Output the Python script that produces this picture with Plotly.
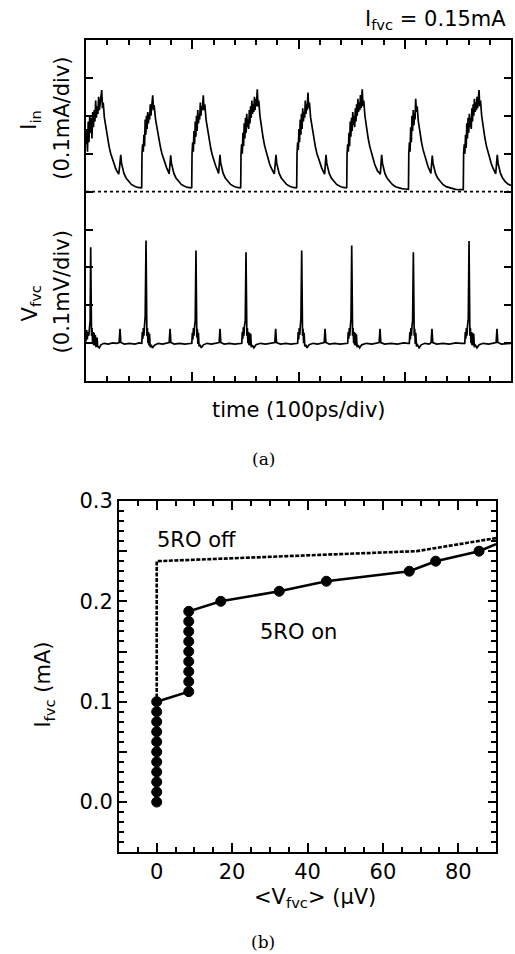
import plotly.graph_objects as go

# ---------------- Panel (a): time traces ----------------
# I_in trace: time (ps) and current (mA)
t_in = [
    0.0, 0.7, 1.4, 2.1, 2.8, 3.5, 4.2, 4.9, 5.6, 6.3, 7.0, 7.7, 8.4, 9.1, 9.8, 10.5, 11.2, 11.9, 12.6, 13.3, 14.8, 15.5, 16.2,
    17.3, 18.8, 20.3, 21.8, 23.3, 24.8, 26.3, 27.8, 29.3, 30.8, 31.8, 32.7, 33.4, 34.2, 35.7, 37.7, 40.2, 42.7, 45.7, 48.7, 52.2,
    52.4, 52.7, 53.3, 53.9, 54.5, 55.1, 55.7, 56.3, 56.9, 57.5, 58.1, 58.7, 59.3, 59.9, 60.5, 61.1, 61.7, 62.8, 63.5, 64.1,
    65.5, 67.0, 68.5, 70.0, 71.5, 73.0, 74.5, 76.0, 77.5, 78.2, 79.0, 79.7, 80.4, 81.2, 82.7, 84.7, 87.2, 89.7, 92.7, 95.7, 99.2,
    99.5, 99.8, 100.4, 101.0, 101.6, 102.2, 102.8, 103.4, 104.0, 104.6, 105.2, 105.8, 106.4, 107.0, 107.6, 108.2, 108.8, 109.5, 110.4, 111.1, 111.8,
    113.0, 114.5, 116.0, 117.5, 119.0, 120.5, 122.0, 123.5, 124.8, 125.4, 126.1, 126.8, 127.6, 129.1, 131.1, 133.6, 136.1, 139.1, 142.1, 145.3,
    145.6, 145.9, 146.5, 147.1, 147.7, 148.3, 148.9, 149.5, 150.1, 150.7, 151.3, 151.9, 152.5, 153.1, 153.7, 154.3, 154.9, 155.5, 156.1, 156.7,
    157.3, 157.9, 158.5, 159.1, 159.7, 160.4, 161.2, 161.9, 162.6,
    163.7, 165.2, 166.7, 168.2, 169.7, 171.2, 172.7, 174.2, 175.7, 177.2, 178.0, 178.8, 179.5, 180.3, 181.8, 183.8, 186.3, 188.8, 191.8, 194.8, 198.0,
    198.3, 198.6, 199.2, 199.8, 200.4, 201.0, 201.6, 202.2, 202.8, 203.4, 204.0, 204.6, 205.2, 205.8, 206.4, 207.0, 207.6, 208.2, 208.9, 209.6, 210.3,
    211.4, 212.9, 214.4, 215.9, 217.4, 218.9, 220.4, 221.9, 223.4, 224.6, 225.2, 225.9, 226.6, 227.4, 228.9, 230.9, 233.4, 235.9, 238.9, 241.9, 245.1,
    245.4, 245.7, 246.3, 246.9, 247.5, 248.1, 248.7, 249.3, 249.9, 250.5, 251.1, 251.7, 252.3, 252.9, 253.5, 254.1, 254.7, 255.3, 255.9, 256.5,
    257.1, 257.7, 258.3, 258.9, 259.4, 260.0, 260.7, 261.4,
    262.5, 264.0, 265.5, 267.0, 268.5, 270.0, 271.5, 273.0, 274.5, 276.0, 277.0, 277.6, 278.3, 279.0, 279.8, 281.3, 283.3, 285.8, 288.3, 291.3,
    294.3, 297.3, 300.3, 303.3,
    303.5, 303.8, 304.4, 305.0, 305.6, 306.2, 306.8, 307.4, 308.0, 308.6, 309.2, 309.7, 310.3, 311.0, 311.7,
    312.8, 314.3, 315.8, 317.3, 318.8, 320.3, 321.8, 323.3, 324.6, 325.2, 325.9, 326.6, 327.4, 328.9, 330.9, 333.4, 335.9, 338.9, 341.9,
    344.9, 347.9, 350.9, 354.9,
    355.1, 355.4, 356.0, 356.6, 357.2, 357.8, 358.4, 359.0, 359.6, 360.2, 360.8, 361.4, 362.0, 362.6, 363.2, 363.8, 364.4, 365.0, 365.6, 366.2,
    366.8, 367.4, 368.0, 368.6, 369.2, 369.9, 370.6, 371.3,
    372.4, 373.9, 375.4, 376.9, 378.4, 379.9, 381.4, 382.9, 384.4, 385.6, 386.3, 387.1, 387.8, 388.6, 390.1, 392.1, 394.6, 397.1, 400.0,
]
i_in = [
    0.125, 0.165, 0.105, 0.185, 0.13, 0.20, 0.155, 0.195, 0.14, 0.21, 0.17, 0.215, 0.185, 0.24, 0.195, 0.225, 0.205, 0.25, 0.215, 0.235, 0.268, 0.22, 0.235,
    0.195, 0.165, 0.14, 0.118, 0.10, 0.085, 0.072, 0.062, 0.053, 0.046, 0.07, 0.097, 0.075, 0.062, 0.048, 0.036, 0.026, 0.019, 0.014, 0.011, 0.010,
    0.011, 0.100, 0.125, 0.105, 0.15, 0.12, 0.19, 0.15, 0.20, 0.165, 0.21, 0.18, 0.205, 0.19, 0.23, 0.20, 0.22, 0.254, 0.215, 0.228,
    0.19, 0.163, 0.14, 0.118, 0.10, 0.085, 0.072, 0.062, 0.053, 0.047, 0.07, 0.096, 0.075, 0.062, 0.048, 0.036, 0.026, 0.019, 0.014, 0.011, 0.010,
    0.011, 0.10, 0.13, 0.105, 0.16, 0.125, 0.185, 0.145, 0.20, 0.16, 0.215, 0.18, 0.20, 0.19, 0.235, 0.20, 0.225, 0.215, 0.254, 0.215, 0.23,
    0.19, 0.16, 0.135, 0.113, 0.095, 0.08, 0.068, 0.058, 0.048, 0.07, 0.097, 0.075, 0.062, 0.048, 0.036, 0.026, 0.019, 0.014, 0.011, 0.010,
    0.011, 0.10, 0.125, 0.10, 0.155, 0.12, 0.18, 0.14, 0.195, 0.155, 0.205, 0.17, 0.19, 0.165, 0.215, 0.18, 0.225, 0.195, 0.24, 0.205,
    0.23, 0.21, 0.25, 0.215, 0.245, 0.225, 0.27, 0.225, 0.24,
    0.20, 0.168, 0.142, 0.12, 0.102, 0.087, 0.074, 0.063, 0.054, 0.047, 0.07, 0.097, 0.075, 0.062, 0.048, 0.036, 0.026, 0.019, 0.014, 0.011, 0.010,
    0.011, 0.10, 0.13, 0.11, 0.165, 0.13, 0.19, 0.15, 0.205, 0.165, 0.22, 0.185, 0.21, 0.195, 0.24, 0.205, 0.23, 0.215, 0.261, 0.22, 0.235,
    0.195, 0.165, 0.14, 0.118, 0.10, 0.085, 0.072, 0.062, 0.053, 0.046, 0.07, 0.097, 0.075, 0.062, 0.048, 0.036, 0.026, 0.019, 0.014, 0.011, 0.010,
    0.011, 0.10, 0.125, 0.105, 0.155, 0.12, 0.185, 0.145, 0.195, 0.16, 0.21, 0.175, 0.20, 0.17, 0.22, 0.185, 0.23, 0.20, 0.245, 0.21,
    0.235, 0.215, 0.255, 0.22, 0.24, 0.27, 0.225, 0.24,
    0.20, 0.168, 0.142, 0.12, 0.102, 0.087, 0.074, 0.063, 0.054, 0.05, 0.046, 0.07, 0.097, 0.075, 0.062, 0.048, 0.036, 0.026, 0.019, 0.013,
    0.010, 0.008, 0.007, 0.006,
    0.006, 0.10, 0.13, 0.105, 0.17, 0.13, 0.20, 0.16, 0.215, 0.175, 0.205, 0.19, 0.245, 0.21, 0.225,
    0.185, 0.155, 0.13, 0.11, 0.093, 0.079, 0.067, 0.057, 0.048, 0.07, 0.095, 0.075, 0.062, 0.048, 0.036, 0.026, 0.019, 0.013, 0.010,
    0.008, 0.006, 0.005, 0.005,
    0.005, 0.10, 0.125, 0.10, 0.15, 0.115, 0.18, 0.14, 0.195, 0.155, 0.205, 0.17, 0.195, 0.165, 0.22, 0.185, 0.23, 0.20, 0.245, 0.21,
    0.235, 0.215, 0.25, 0.22, 0.24, 0.268, 0.225, 0.24,
    0.20, 0.168, 0.142, 0.12, 0.102, 0.087, 0.074, 0.063, 0.054, 0.047, 0.07, 0.097, 0.075, 0.062, 0.048, 0.036, 0.026, 0.020, 0.016,
]

# V_fvc trace: time (ps) and voltage (mV)
t_v = [
    0.0, 0.6, 1.2, 1.8, 2.6, 3.3, 3.9, 4.4, 4.8, 5.2, 5.7, 6.2, 6.7, 7.2, 7.7, 8.2, 8.8, 9.4, 10.4, 11.0, 12.5, 14.0, 17.0, 21.0, 25.0, 29.0,
    31.2, 32.0, 32.8, 36.0, 41.0, 46.0, 50.0,
    52.5, 53.0, 53.5, 54.0, 54.5, 55.0, 55.7, 56.5, 56.9, 57.3, 57.8, 58.3, 58.8, 59.3, 59.8, 60.4, 61.4, 62.5, 64.5, 68.0, 72.0, 76.0,
    78.3, 79.1, 79.9, 83.0, 88.0, 93.0, 97.0,
    99.6, 100.1, 100.6, 101.1, 101.6, 102.1, 102.8, 103.5, 103.9, 104.3, 104.8, 105.3, 105.8, 106.4, 107.4, 108.5, 110.5, 114.0, 118.0, 123.0,
    125.3, 126.1, 126.9, 130.0, 135.0, 140.0, 144.0,
    146.6, 147.1, 147.6, 148.1, 148.6, 149.1, 149.9, 150.6, 151.0, 151.4, 151.9, 152.4, 152.9, 153.4, 153.9, 154.4, 155.0, 155.6, 156.6, 158.0,
    160.0, 164.0, 169.0, 174.0,
    177.7, 178.5, 179.3, 183.0, 188.0, 193.0, 198.0,
    199.2, 199.7, 200.2, 200.7, 201.2, 201.7, 202.3, 203.0, 203.4, 203.8, 204.3, 204.8, 205.3, 205.9, 206.9, 208.0, 210.0, 214.0, 218.0, 222.0,
    224.2, 225.0, 225.8, 229.0, 234.0, 239.0, 243.0,
    246.3, 246.8, 247.3, 247.8, 248.3, 248.8, 249.4, 250.1, 250.5, 250.9, 251.4, 251.9, 252.4, 252.9, 253.4, 253.9, 254.5, 255.1, 256.1, 257.5,
    259.5, 264.0, 269.0, 274.0,
    275.9, 276.7, 277.5, 281.0, 287.0, 293.0, 299.0, 303.0,
    304.3, 304.8, 305.3, 305.8, 306.3, 306.8, 307.4, 308.1, 308.5, 308.9, 309.4, 309.9, 310.4, 311.0, 312.0, 313.5, 315.5, 319.0, 323.0,
    324.8, 325.6, 326.4, 330.0, 336.0, 342.0, 348.0, 353.0,
    356.5, 357.0, 357.5, 358.0, 358.5, 359.0, 359.8, 360.5, 360.9, 361.3, 361.8, 362.3, 362.8, 363.3, 363.8, 364.3, 364.9, 365.5, 366.5, 368.0,
    370.0, 374.0, 379.0, 384.0,
    386.0, 386.8, 387.6, 391.0, 396.0, 400.0,
]
v_fvc = [
    0.005, 0.035, 0.01, 0.03, 0.02, 0.04, 0.06, 0.253, 0.06, 0.02, 0.04, 0.0, 0.03, -0.005, 0.028, -0.006, 0.022, -0.01, 0.015, -0.008, -0.012, -0.004, 0.0, -0.002, 0.001, 0.0,
    0.002, 0.038, 0.002, -0.002, 0.0, -0.002, 0.001,
    0.0, 0.03, 0.012, 0.04, 0.02, 0.045, 0.07, 0.271, 0.06, 0.02, 0.04, 0.0, 0.03, -0.006, 0.025, -0.01, -0.004, -0.012, -0.005, 0.0, -0.002, 0.001,
    0.002, 0.038, 0.002, -0.002, 0.0, -0.002, 0.0,
    0.0, 0.028, 0.01, 0.04, 0.02, 0.042, 0.06, 0.245, 0.055, 0.015, 0.038, -0.002, 0.028, -0.008, -0.004, -0.012, -0.004, 0.0, -0.002, 0.001,
    0.002, 0.038, 0.002, -0.002, 0.0, -0.002, 0.0,
    0.0, 0.03, 0.012, 0.042, 0.02, 0.045, 0.06, 0.24, 0.06, 0.02, 0.04, 0.0, 0.03, -0.005, 0.028, -0.006, 0.025, -0.01, -0.005, -0.012,
    -0.004, 0.0, -0.002, 0.001,
    0.002, 0.038, 0.002, -0.002, 0.0, -0.002, 0.0,
    0.0, 0.03, 0.01, 0.04, 0.022, 0.045, 0.065, 0.245, 0.06, 0.02, 0.038, 0.0, 0.028, -0.008, -0.004, -0.012, -0.004, 0.0, -0.002, 0.001,
    0.002, 0.038, 0.002, -0.002, 0.0, -0.002, 0.0,
    0.0, 0.03, 0.012, 0.04, 0.02, 0.045, 0.065, 0.258, 0.06, 0.02, 0.04, 0.0, 0.03, -0.005, 0.028, -0.006, 0.024, -0.01, -0.005, -0.012,
    -0.004, 0.0, -0.002, 0.001,
    0.002, 0.038, 0.002, -0.002, 0.0, -0.002, 0.001, 0.0,
    0.0, 0.03, 0.01, 0.04, 0.02, 0.045, 0.06, 0.24, 0.055, 0.02, 0.038, -0.002, 0.028, -0.008, -0.004, -0.012, -0.004, 0.0, -0.002,
    0.002, 0.038, 0.002, -0.002, 0.0, -0.002, 0.001, 0.0,
    0.0, 0.03, 0.012, 0.04, 0.02, 0.045, 0.065, 0.27, 0.06, 0.02, 0.04, 0.0, 0.03, -0.005, 0.028, -0.006, 0.025, -0.01, -0.005, -0.012,
    -0.004, 0.0, -0.002, 0.001,
    0.002, 0.038, 0.002, -0.002, 0.0, 0.0,
]

zero_t = [0, 400]
zero_i = [0.0, 0.0]

# ---------------- Panel (b): I-V curves ----------------
on_v = [0, 0, 0, 0, 0, 0, 0, 0, 0, 0, 0,
        8.5, 8.5, 8.5, 8.5, 8.5, 8.5, 8.5, 8.5, 8.5,
        17, 32.5, 45, 67, 74, 85.5, 90]
on_i = [0.00, 0.01, 0.02, 0.03, 0.04, 0.05, 0.06, 0.07, 0.08, 0.09, 0.10,
        0.11, 0.12, 0.13, 0.14, 0.15, 0.16, 0.17, 0.18, 0.19,
        0.20, 0.21, 0.22, 0.23, 0.24, 0.25, 0.257]
on_marker = [True] * 26 + [False]

off_v = [0, 0, 69, 90]
off_i = [0.0, 0.24, 0.25, 0.263]

xb_ticks = [0, 20, 40, 60, 80]
yb_tickvals = [-0.05, 0.0, 0.05, 0.1, 0.15, 0.2, 0.25, 0.3]
yb_ticktext = ["", "0.0", "", "0.1", "", "0.2", "", "0.3"]

W, H = 515, 954
FONT = "DejaVu Sans"


def px(x):
    return x / W


def py(y):
    # pixel row -> paper fraction (small correction for the observed vertical offset)
    yc = (y - 10) / 0.9895
    return 1 - yc / H


fig = go.Figure()
fig.add_trace(go.Scatter(x=zero_t, y=zero_i, mode="lines", xaxis="x", yaxis="y",
                         line=dict(color="black", width=1.6, dash="dot"), showlegend=False))
fig.add_trace(go.Scatter(x=t_in, y=i_in, mode="lines", xaxis="x", yaxis="y",
                         line=dict(color="black", width=1.7), showlegend=False))
fig.add_trace(go.Scatter(x=t_v, y=v_fvc, mode="lines", xaxis="x", yaxis="y2",
                         line=dict(color="black", width=1.7), showlegend=False))

fig.add_trace(go.Scatter(x=off_v, y=off_i, mode="lines", xaxis="x2", yaxis="y3",
                         line=dict(color="black", width=2.6, dash="4px,1.5px"), showlegend=False))
fig.add_trace(go.Scatter(x=on_v, y=on_i, mode="lines+markers", xaxis="x2", yaxis="y3",
                         line=dict(color="black", width=2.6),
                         marker=dict(color="#000000", opacity=1,
                                     size=[10 if m else 0 for m in on_marker],
                                     line=dict(width=1, color="#000000")),
                         showlegend=False))

axis_common = dict(showline=True, linecolor="black", linewidth=2, mirror="ticks",
                   ticks="inside", tickcolor="black", showgrid=False, zeroline=False)

fig.update_layout(
    width=W, height=H, margin=dict(l=0, r=0, t=0, b=0),
    paper_bgcolor="white", plot_bgcolor="white",
    font=dict(family=FONT, size=21, color="black"),
    xaxis=dict(domain=[px(86), px(511)], range=[0, 400], anchor="y",
               tickvals=[0, 100, 200, 300, 400], ticklen=9, tickwidth=1.5,
               showticklabels=False,
               minor=dict(dtick=20, ticklen=5, tickwidth=1.5, ticks="inside", tickcolor="black"),
               **axis_common),
    yaxis=dict(domain=[py(380), py(38)], range=[-0.5, 0.4], anchor="x",
               tick0=0, dtick=0.1, ticklen=7, tickwidth=1.5, showticklabels=False,
               **axis_common),
    yaxis2=dict(domain=[py(380), py(38)], range=[-0.1, 0.8], overlaying="y",
                visible=False),
    xaxis2=dict(domain=[px(119), px(496)], range=[-10, 90], anchor="y3",
                tickvals=xb_ticks, ticklen=9, tickwidth=1.5,
                tickfont=dict(family=FONT, size=21),
                minor=dict(dtick=5, ticklen=5, tickwidth=1.5, ticks="inside", tickcolor="black"),
                **axis_common),
    yaxis3=dict(domain=[py(852), py(500)], range=[-0.05, 0.3], anchor="x2",
                tickvals=yb_tickvals, ticktext=yb_ticktext, ticklen=8, tickwidth=1.5,
                tickfont=dict(family=FONT, size=21),
                minor=dict(dtick=0.01, ticklen=5, tickwidth=1.5, ticks="inside", tickcolor="black"),
                **axis_common),
)

ann = [
    dict(text="I<sub>fvc</sub> = 0.15mA", x=px(508), y=py(18), xanchor="right", yanchor="middle"),
    dict(text="I<sub>in</sub>", x=px(30), y=py(118), textangle=-90),
    dict(text="(0.1mA/div)", x=px(62), y=py(117), textangle=-90),
    dict(text="V<sub>fvc</sub>", x=px(31), y=py(302), textangle=-90),
    dict(text="(0.1mV/div)", x=px(62), y=py(291), textangle=-90),
    dict(text="time (100ps/div)", x=px(299), y=py(409)),
    dict(text="(a)", x=px(263), y=py(458), font=dict(family="DejaVu Serif", size=17)),
    dict(text="I<sub>fvc</sub> (mA)", x=px(44), y=py(684), textangle=-90),
    dict(text="&lt;V<sub>fvc</sub>&gt; (μV)", x=px(315), y=py(898)),
    dict(text="(b)", x=px(263), y=py(942), font=dict(family="DejaVu Serif", size=17)),
]
for a in ann:
    a.setdefault("xref", "paper")
    a.setdefault("yref", "paper")
    a.setdefault("showarrow", False)
    a.setdefault("xanchor", "center")
    a.setdefault("yanchor", "middle")
    fig.add_annotation(**a)

fig.add_annotation(text="5RO off", x=-0.5, y=0.261, xref="x2", yref="y3", xanchor="left",
                   yanchor="middle", showarrow=False)
fig.add_annotation(text="5RO on", x=27, y=0.169, xref="x2", yref="y3", xanchor="left",
                   yanchor="middle", showarrow=False)

fig.write_html("out.html", post_script="document.body.style.margin='0';")
